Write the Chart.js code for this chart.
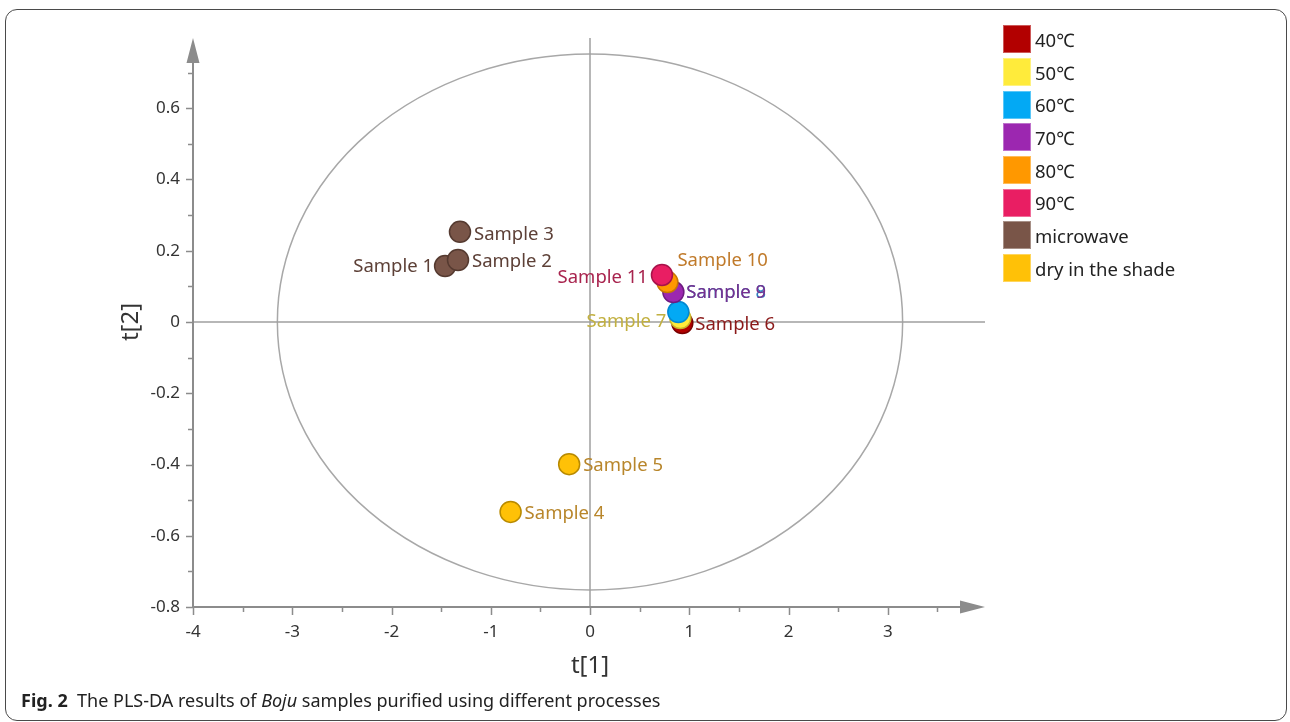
<!DOCTYPE html>
<html lang="en">
<head>
  <meta charset="UTF-8">
  <title>PLS-DA results of Boju samples</title>
  <style>
    body, html {
      width: 1290px;
      height: 722px;
      margin: 0;
      overflow: hidden;
      background-color: #fff;
    }

    #frame {
      position: absolute;
      left: 5px;
      top: 9px;
      width: 1280px;
      height: 710px;
      border: 1.5px solid #4a4a4a;
      border-radius: 12px;
      pointer-events: none;
    }

    #chart-container {
      position: absolute;
      left: 0;
      top: 0;
      width: 1290px;
      height: 722px;
    }

    #legend {
      position: absolute;
      left: 1003px;
      top: 23px;
      font-family: "Noto Sans", sans-serif;
      font-size: 18.5px;
      color: #222;
    }

    #legend .item {
      display: flex;
      align-items: center;
      height: 32.7px;
    }

    #legend .swatch {
      width: 28px;
      height: 28px;
      margin-right: 4px;
      box-sizing: border-box;
      border: 1px solid rgba(255, 255, 255, 0.35);
    }

    #caption {
      position: absolute;
      left: 21px;
      top: 689px;
      font-family: "Noto Sans", sans-serif;
      font-size: 18px;
      line-height: 22px;
      color: #222;
      white-space: nowrap;
    }
  </style>
</head>
<body>
  <div id="chart-container">
    <canvas id="plsChart" width="1290" height="722"></canvas>
  </div>
  <div id="legend"></div>
  <div id="caption"><b>Fig. 2</b>&nbsp; The PLS-DA results of <i>Boju</i> samples purified using different processes</div>
  <div id="frame"></div>

  <script src="https://cdn.jsdelivr.net/npm/chart.js"></script>
  <script>
    // samples and their scores
    const sampleNames = ['Sample 1', 'Sample 2', 'Sample 3', 'Sample 4', 'Sample 5', 'Sample 6',
                         'Sample 7', 'Sample 8', 'Sample 9', 'Sample 10', 'Sample 11'];
    const t1 = [-1.46, -1.33, -1.31, -0.80, -0.21, 0.93, 0.91, 0.89, 0.84, 0.78, 0.725];
    const t2 = [0.157, 0.174, 0.253, -0.533, -0.399, -0.003, 0.011, 0.028, 0.084, 0.112, 0.132];
    const sampleGroup = [6, 6, 6, 7, 7, 0, 1, 2, 3, 4, 5];

    // groups (legend order)
    const groups = ['40℃', '50℃', '60℃', '70℃', '80℃', '90℃', 'microwave', 'dry in the shade'];
    const groupFill = ['#b20000', '#ffeb3b', '#03a9f4', '#9c27b0', '#ff9800', '#e91e63', '#795548', '#ffc107'];
    const groupEdge = ['#7a0000', '#c9b52a', '#0288d1', '#6e1b80', '#c97800', '#a8124a', '#553a30', '#b88a00'];
    const groupText = ['#8b1a1a', '#c2b040', '#2f7fc0', '#7b2f8e', '#c07a2a', '#a8244e', '#5d4037', '#b8862b'];

    // axis ticks and Hotelling ellipse
    const xTickLabels = ['-4', '-3', '-2', '-1', '0', '1', '2', '3'];
    const yTickLabels = ['-0.8', '-0.6', '-0.4', '-0.2', '0', '0.2', '0.4', '0.6'];
    const ellipseT1 = 3.15;
    const ellipseT2 = 0.752;

    // where each sample label sits relative to its marker
    const labelPlace = [
      { dx: -12, dy: 1, align: 'right' },
      { dx: 14, dy: 2, align: 'left' },
      { dx: 14, dy: 3, align: 'left' },
      { dx: 14, dy: 2, align: 'left' },
      { dx: 14, dy: 2, align: 'left' },
      { dx: 13, dy: 2, align: 'left' },
      { dx: -14, dy: 4, align: 'right' },
      { dx: 8, dy: -19, align: 'left' },
      { dx: 13, dy: 1, align: 'left' },
      { dx: 10, dy: -21, align: 'left' },
      { dx: -14, dy: 3, align: 'right' }
    ];

    const FONT = '"Noto Sans", sans-serif';
    const AXIS = '#8c8c8c';

    // legend
    const legendEl = document.getElementById('legend');
    groups.forEach((g, i) => {
      const row = document.createElement('div');
      row.className = 'item';
      row.innerHTML = '<span class="swatch" style="background:' + groupFill[i] + '"></span><span>' + g + '</span>';
      legendEl.appendChild(row);
    });

    const datasets = groups.map((g, gi) => ({
      label: g,
      data: sampleNames.map((n, i) => ({ x: t1[i], y: t2[i], idx: i })).filter(p => sampleGroup[p.idx] === gi),
      backgroundColor: groupFill[gi],
      borderColor: groupEdge[gi],
      borderWidth: 1.5,
      pointRadius: 10.5,
      pointHoverRadius: 10.5,
      order: groups.length - gi
    }));

    const axesPlugin = {
      id: 'plsAxes',
      beforeDatasetsDraw(chart) {
        const { ctx, chartArea, scales: { x, y } } = chart;
        const x0 = x.getPixelForValue(0), y0 = y.getPixelForValue(0);
        const xl = x.getPixelForValue(-4), yb = y.getPixelForValue(-0.8);
        ctx.save();

        // ellipse
        ctx.strokeStyle = '#a8a8a8';
        ctx.lineWidth = 1.5;
        ctx.beginPath();
        ctx.ellipse(x0, y0, x.getPixelForValue(ellipseT1) - x0, y0 - y.getPixelForValue(ellipseT2), 0, 0, Math.PI * 2);
        ctx.stroke();

        // zero lines
        ctx.strokeStyle = '#a0a0a0';
        ctx.beginPath();
        ctx.moveTo(x0, chartArea.top + 1);
        ctx.lineTo(x0, yb);
        ctx.moveTo(xl, y0);
        ctx.lineTo(chartArea.right - 2, y0);
        ctx.stroke();

        // axis lines
        ctx.strokeStyle = AXIS;
        ctx.fillStyle = AXIS;
        ctx.lineWidth = 2;
        const yTop = chartArea.top + 1, xRight = chartArea.right - 2;
        ctx.beginPath();
        ctx.moveTo(xl, yb);
        ctx.lineTo(xl, yTop + 24);
        ctx.moveTo(xl, yb);
        ctx.lineTo(xRight - 24, yb);
        ctx.stroke();
        ctx.beginPath();
        ctx.moveTo(xl, yTop);
        ctx.lineTo(xl - 6.5, yTop + 25);
        ctx.lineTo(xl + 6.5, yTop + 25);
        ctx.closePath();
        ctx.moveTo(xRight, yb);
        ctx.lineTo(xRight - 25, yb - 6.5);
        ctx.lineTo(xRight - 25, yb + 6.5);
        ctx.closePath();
        ctx.fill();

        // tick marks
        ctx.lineWidth = 1.5;
        ctx.beginPath();
        for (let k = 0; k <= 15; k++) {
          const v = -0.8 + k * 0.1;
          const py = Math.round(y.getPixelForValue(v)) + 0.5;
          const len = k % 2 === 0 ? 7 : 5;
          ctx.moveTo(xl, py);
          ctx.lineTo(xl - len, py);
        }
        for (let k = 0; k <= 15; k++) {
          const v = -4 + k * 0.5;
          const px = Math.round(x.getPixelForValue(v)) + 0.5;
          const len = k % 2 === 0 ? 8 : 5;
          ctx.moveTo(px, yb);
          ctx.lineTo(px, yb + len);
        }
        ctx.stroke();
        ctx.restore();
      },
      afterDatasetsDraw(chart) {
        const { ctx } = chart;
        ctx.save();
        ctx.font = '18.5px ' + FONT;
        ctx.textBaseline = 'middle';
        chart.data.datasets.forEach((ds, di) => {
          const meta = chart.getDatasetMeta(di);
          meta.data.forEach((pt, j) => {
            const i = ds.data[j].idx;
            const p = labelPlace[i];
            ctx.fillStyle = groupText[sampleGroup[i]];
            ctx.textAlign = p.align;
            ctx.fillText(sampleNames[i], pt.x + p.dx, pt.y + p.dy);
          });
        });
        ctx.restore();
      }
    };

    const ctx = document.getElementById('plsChart').getContext('2d');
    const plsChart = new Chart(ctx, {
      type: 'scatter',
      data: { datasets },
      plugins: [axesPlugin],
      options: {
        responsive: false,
        animation: false,
        layout: { padding: { left: 113, right: 303, top: 37, bottom: 35 } },
        plugins: {
          legend: { display: false },
          tooltip: { enabled: false }
        },
        scales: {
          x: {
            type: 'linear',
            min: -4,
            max: 4,
            grid: { display: false, drawTicks: false },
            border: { display: false },
            ticks: {
              stepSize: 1,
              autoSkip: false,
              maxRotation: 0,
              padding: 15,
              color: '#333',
              font: { family: FONT, size: 17 },
              callback: (v) => xTickLabels[Math.round(v) + 4] || ''
            },
            title: {
              display: true,
              text: 't[1]',
              color: '#333',
              font: { family: FONT, size: 24 },
              padding: { top: 0, bottom: 6 }
            },
            afterFit: (s) => { s.height = 80; }
          },
          y: {
            type: 'linear',
            min: -0.8,
            max: 0.8,
            grid: { display: false, drawTicks: false },
            border: { display: false },
            ticks: {
              stepSize: 0.2,
              autoSkip: false,
              padding: 13,
              color: '#333',
              font: { family: FONT, size: 17 },
              callback: (v) => yTickLabels[Math.round((v + 0.8) / 0.2)] || ''
            },
            title: {
              display: true,
              text: 't[2]',
              color: '#333',
              font: { family: FONT, size: 24 },
              padding: { top: 4, bottom: 0 }
            },
            afterFit: (s) => { s.width = 80; }
          }
        }
      }
    });
  </script>
</body>
</html>
